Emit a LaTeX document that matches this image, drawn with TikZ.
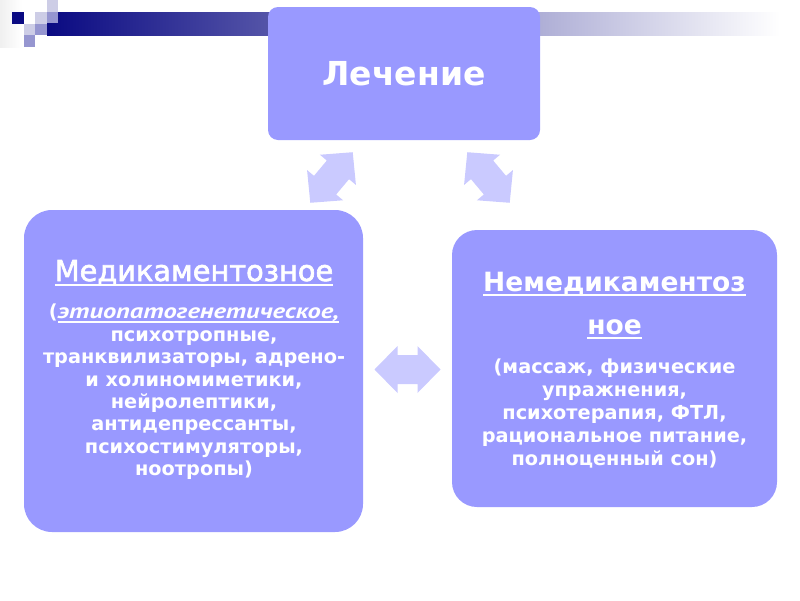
\documentclass[tikz,border=0pt]{standalone}
\usepackage{fontspec}
\setmainfont{DejaVu Sans}
\newfontfamily\curs[FakeStretch=1.26]{PT Sans}
\newfontfamily\headfont[FakeBold=2.2]{DejaVu Sans}
\definecolor{boxfill}{RGB}{153,153,255}
\definecolor{arrowfill}{RGB}{202,202,255}
\definecolor{navybar}{RGB}{10,10,130}
\definecolor{sqlight}{RGB}{205,205,230}
\definecolor{sqmid}{RGB}{150,150,208}
\newcommand{\hul}[1]{\setbox0\hbox{#1}\rlap{\rule[-5pt]{\wd0}{2pt}}\box0}
\newcommand{\iul}[1]{\setbox0\hbox{#1}\rlap{\rule[-4pt]{\wd0}{1.6pt}}\box0}
\tikzset{
  box/.style={draw=none, fill=boxfill, inner sep=0pt},
  txt/.style={text=white, inner sep=0pt, align=center},
  dbl/.pic={\fill[arrowfill] (-33,0) -- (-10,-23.5) -- (-10,-14.5) -- (10,-14.5) -- (10,-23.5) -- (33,0) -- (10,23.5) -- (10,14.5) -- (-10,14.5) -- (-10,23.5) -- cycle;}
}
\begin{document}
\begin{tikzpicture}[x=1pt,y=-1pt]
\useasboundingbox (0,0) rectangle (800,600);
% decoration
\shade[left color=gray!12, right color=white] (0,0) rectangle (22,47);
\shade[left color=navybar, middle color=navybar!27, right color=white] (47,12) rectangle (780,35);
\fill[navybar] (12,12) rectangle (24,24);
\fill[sqlight] (35,12) rectangle (47,24);
\fill[sqlight] (24,24) rectangle (35,35);
\fill[sqmid] (35,24) rectangle (47,35);
\fill[sqmid] (24,35) rectangle (35,47);
\fill[sqlight] (47,0) rectangle (58,12);
\fill[sqmid] (47,12) rectangle (58,23);
% boxes
\node[box, minimum width=272pt, minimum height=133pt, rounded corners=10pt] (treat) at (404,73.5) {};
\node[txt, font=\fontsize{33}{38}\selectfont\bfseries, anchor=base] (treatt) at (404,85) {Лечение};
\node[box, minimum width=339pt, minimum height=322pt, rounded corners=28pt] (med) at (193.5,371) {};
\node[box, minimum width=325pt, minimum height=277pt, rounded corners=25pt] (nonmed) at (614.5,368.5) {};
% left text
\node[txt, font=\fontsize{28.8}{30}\headfont, anchor=base] (medh) at (194,281) {\hul{Медикаментозное}};
\node[txt, font=\fontsize{19.3}{22.4}\selectfont\bfseries, anchor=north] (medb) at (194,304) {(\iul{\fontsize{21}{22.4}\curs\bfseries\itshape этиопатогенетическое,}\\психотропные,\\транквилизаторы, адрено-\\и холиномиметики,\\нейролептики,\\антидепрессанты,\\психостимуляторы,\\ноотропы)};
% right text
\node[txt, font=\fontsize{26.5}{30}\selectfont\bfseries, anchor=base] (nmh1) at (614.5,291) {\hul{Немедикаментоз}};
\node[txt, font=\fontsize{26.5}{30}\selectfont\bfseries, anchor=base] (nmh2) at (614.5,334) {\hul{ное}};
\node[txt, font=\fontsize{19.3}{22.8}\selectfont\bfseries, anchor=north] (nmb) at (614.5,359) {(массаж, физические\\упражнения,\\психотерапия, ФТЛ,\\рациональное питание,\\полноценный сон)};
% arrows
\pic[rotate=50] at (331.5,177.5) {dbl};
\pic[rotate=-50] at (488.5,177.5) {dbl};
\pic at (407.5,369.5) {dbl};
\end{tikzpicture}
\end{document}
